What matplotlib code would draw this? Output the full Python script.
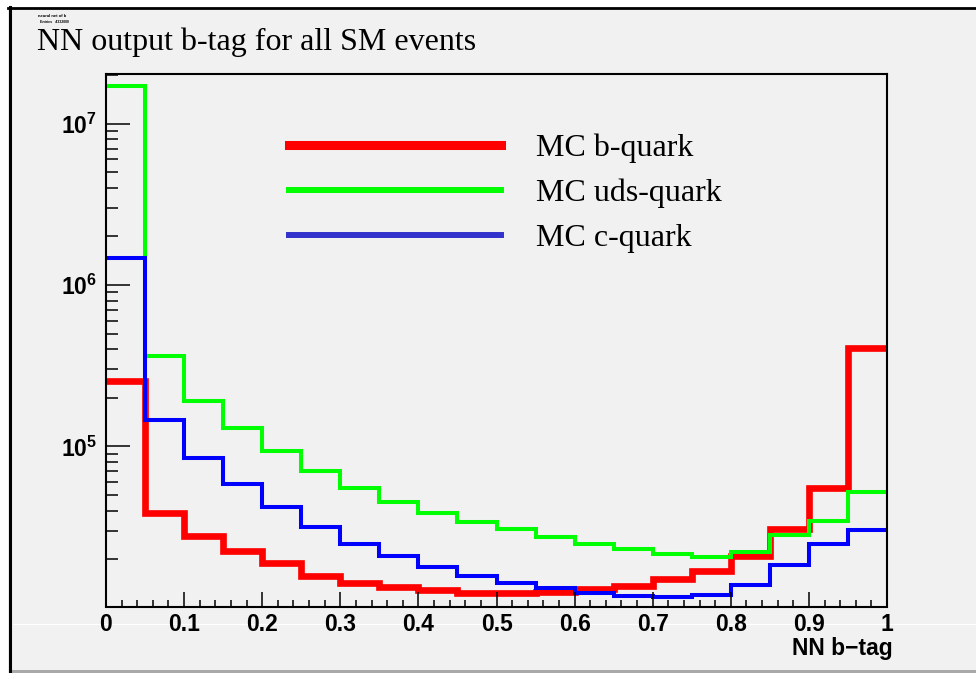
import numpy as np
import matplotlib as mpl
from matplotlib import pyplot as plt
from matplotlib.lines import Line2D
from matplotlib.patches import Rectangle
import matplotlib.ticker as mticker

# Histogram contents, 20 bins in NN b-tag output -------------------------------
bin_edges = [0.0, 0.05, 0.1, 0.15, 0.2, 0.25, 0.3, 0.35, 0.4, 0.45, 0.5,
             0.55, 0.6, 0.65, 0.7, 0.75, 0.8, 0.85, 0.9, 0.95, 1.0]

b_quark = [2.54e5, 3.86e4, 2.79e4, 2.26e4, 1.91e4, 1.58e4, 1.42e4, 1.34e4,
           1.29e4, 1.24e4, 1.23e4, 1.25e4, 1.31e4, 1.37e4, 1.51e4, 1.70e4,
           2.11e4, 3.08e4, 5.51e4, 4.06e5]
uds_quark = [1.71e7, 3.65e5, 1.92e5, 1.30e5, 9.42e4, 7.08e4, 5.51e4, 4.55e4,
             3.89e4, 3.42e4, 3.07e4, 2.74e4, 2.49e4, 2.31e4, 2.15e4, 2.08e4,
             2.23e4, 2.84e4, 3.46e4, 5.25e4]
c_quark = [1.47e6, 1.46e5, 8.52e4, 5.87e4, 4.24e4, 3.19e4, 2.49e4, 2.11e4,
           1.78e4, 1.58e4, 1.43e4, 1.32e4, 1.23e4, 1.19e4, 1.17e4, 1.20e4,
           1.39e4, 1.85e4, 2.48e4, 3.03e4]

labels = ['MC b-quark', 'MC uds-quark', 'MC c-quark']

# Fonts (ROOT style: bold helvetica for axes, times for titles) ---------------
plt.rcParams['font.family'] = 'Liberation Sans'
plt.rcParams['font.weight'] = 'bold'
plt.rcParams['mathtext.fontset'] = 'custom'
plt.rcParams['mathtext.rm'] = 'Liberation Sans:bold'
plt.rcParams['mathtext.it'] = 'Liberation Sans:bold'
plt.rcParams['mathtext.bf'] = 'Liberation Sans:bold'

W, H = 976, 673
canvas_gray = '#f1f1f1'

fig = plt.figure(figsize=(W/100, H/100), dpi=100, facecolor='white')

# canvas background and borders (kept behind the axes)
fig.add_artist(Rectangle((8/W, 0), 1 - 8/W, 1 - 7/H, transform=fig.transFigure,
                         facecolor=canvas_gray, edgecolor='none', zorder=-3))
fig.add_artist(Line2D([8/W, 1], [1 - 7.5/H, 1 - 7.5/H], transform=fig.transFigure,
                      color='k', lw=2.0, zorder=-1))
fig.add_artist(Line2D([9.5/W, 9.5/W], [0, 1 - 6.5/H], transform=fig.transFigure,
                      color='k', lw=2.2, zorder=-1))
fig.add_artist(Line2D([13/W, 1], [1 - 624/H, 1 - 624/H], transform=fig.transFigure,
                      color='white', lw=0.9, zorder=-2))
fig.add_artist(Rectangle((12/W, 0), 1, 3/H, transform=fig.transFigure,
                         facecolor='#a9a9a9', edgecolor='none', zorder=-2))

ax = fig.add_axes([106/W, 1 - 606.5/H, 781/W, 532.5/H])
ax.set_facecolor(canvas_gray)

# histograms ------------------------------------------------------------------
for vals, col, lw in zip([b_quark, uds_quark, c_quark],
                         ['#ff0000', '#00ff00', '#0000ff'], [4.8, 2.9, 2.9]):
    st = ax.stairs(vals, bin_edges, color=col, lw=lw, baseline=None)
    st.set_joinstyle('miter')

ax.set_yscale('log')
ax.set_xlim(0, 1)
ax.set_ylim(1.02e4, 2.03e7)

for sp in ax.spines.values():
    sp.set_linewidth(1.5)

ax.xaxis.set_major_locator(mticker.MultipleLocator(0.1))
ax.xaxis.set_minor_locator(mticker.MultipleLocator(0.02))
ax.xaxis.set_major_formatter(mticker.FuncFormatter(
    lambda v, p: '%g' % round(v, 1)))
ax.yaxis.set_major_locator(mticker.LogLocator(base=10, numticks=10))
ax.yaxis.set_minor_locator(mticker.LogLocator(base=10, subs=range(2, 10), numticks=20))
ax.yaxis.set_major_formatter(mticker.FuncFormatter(
    lambda v, p: r'$10^{%d}$' % round(np.log10(v))))
ax.yaxis.set_minor_formatter(mticker.NullFormatter())

ax.tick_params(axis='x', which='major', direction='in', length=10.8, width=1.1,
               pad=5, labelsize=16.5)
ax.tick_params(axis='x', which='minor', direction='in', length=5, width=1.1)
ax.tick_params(axis='y', which='major', direction='in', length=17.3, width=1.1,
               pad=6.5, labelsize=16.5)
ax.tick_params(axis='y', which='minor', direction='in', length=8.6, width=1.1)

ax.set_xlabel('NN b\u2212tag', fontsize=16.5, fontweight='bold')
ax.xaxis.set_label_coords((893 - 106)/781, -(655 - 606.5)/532.5)
ax.xaxis.label.set_ha('right')
ax.xaxis.label.set_va('baseline')

# legend ----------------------------------------------------------------------
handles = [Line2D([], [], color='#ff0000', lw=6.5),
           Line2D([], [], color='#00ff00', lw=4.3),
           Line2D([], [], color='#3333cc', lw=4.3)]
ax.legend(handles, labels, loc='upper left', bbox_to_anchor=(0.2343, 0.888),
          frameon=False, prop={'family': 'Liberation Serif', 'size': 23,
                               'weight': 'normal'},
          handlelength=6.64, handletextpad=1.1, labelspacing=0.485,
          borderpad=0, borderaxespad=0)

# title -----------------------------------------------------------------------
fig.text(37/W, 1 - 50/H, 'NN output b-tag for all SM events',
         family='Liberation Serif', size=23, weight='normal', va='baseline')
fig.text(38/W, 1 - 17/H, 'neural net of b', size=3, weight='bold', va='baseline')
fig.text(40/W, 1 - 23/H, 'Entries   4332000', size=2.5, weight='bold', va='baseline')

fig.savefig('out.png', dpi=100, facecolor='white')
